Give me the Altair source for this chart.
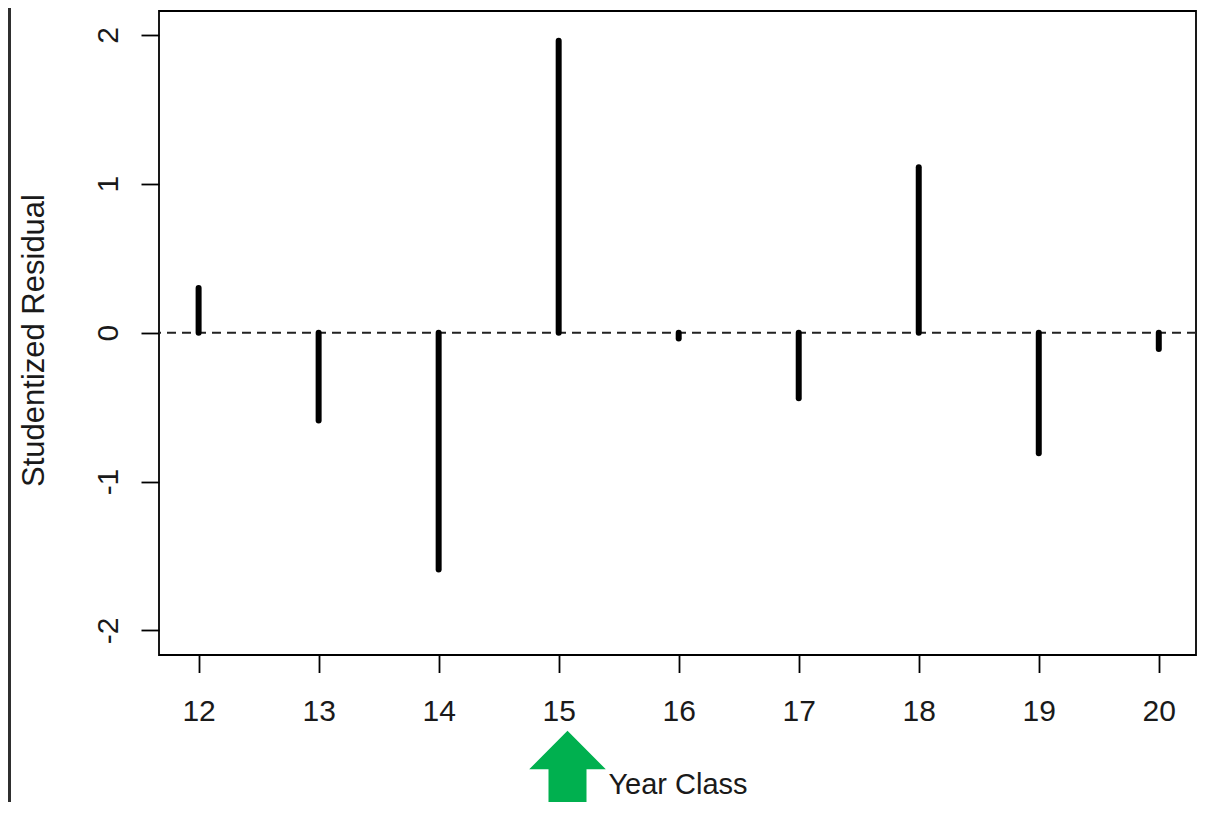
import altair as alt
import pandas as pd

year_class = [12, 13, 14, 15, 16, 17, 18, 19, 20]
residual = [0.30, -0.59, -1.59, 1.96, -0.04, -0.44, 1.11, -0.81, -0.11]
x_ticks = [12, 13, 14, 15, 16, 17, 18, 19, 20]
y_ticks = [-2, -1, 0, 1, 2]
x_title = "Year Class"
y_title = "Studentized Residual"

df = pd.DataFrame({"year": year_class, "resid": residual, "zero": [0] * len(year_class)})
one = pd.DataFrame({"zero": [0]})

W, H = 1037, 644
FONT = "Liberation Sans"

xscale = alt.Scale(domain=[11.67, 20.31], nice=False, zero=False)
yscale = alt.Scale(domain=[-2.165, 2.16], nice=False, zero=False)

y_axis = alt.Axis(
    values=y_ticks,
    title=y_title,
    titleFontSize=31,
    titleAngle=270,
    titleBaseline="alphabetic",
    titleAlign="center",
    titleX=-115.7,
    titleY=329,
    titleFont=FONT,
    titleFontWeight="normal",
    titleColor="#1a1a1a",
    labelAngle=270,
    labelAlign="center",
    labelBaseline="alphabetic",
    labelPadding=24,
    tickSize=18,
    labelExpr="'' + datum.value",
)

x_axis = alt.Axis(
    values=x_ticks,
    title=x_title,
    titleFontSize=29,
    titleBaseline="alphabetic",
    titleY=138.3,
    titleFont=FONT,
    titleFontWeight="normal",
    titleColor="#1a1a1a",
    labelBaseline="alphabetic",
    labelAlign="center",
    labelPadding=47.5,
    tickSize=17.5,
    labelExpr="'' + datum.value",
)

strip = alt.Chart(one).mark_rect(color="#2f2f2f").encode(
    x=alt.value(-151), x2=alt.value(-148), y=alt.value(-3), y2=alt.value(795)
)

zero_line = alt.Chart(one).mark_rule(
    color="#222222", strokeWidth=2, strokeDash=[9, 6]
).encode(y=alt.Y("zero:Q", scale=yscale, axis=y_axis))

bars = alt.Chart(df).mark_rule(color="black", strokeWidth=6, strokeCap="round").encode(
    x=alt.X("year:Q", scale=xscale, axis=x_axis),
    y=alt.Y("zero:Q", scale=yscale, axis=y_axis),
    y2="resid:Q",
)

arrow_path = (
    "M0,-0.806 L0.766,-0.034 L0.38,-0.034 L0.38,0.9 "
    "L-0.38,0.9 L-0.38,-0.034 L-0.766,-0.034 Z"
)
arrow = alt.Chart(one).mark_point(
    shape=arrow_path, size=10000, filled=True, color="#00b04f", opacity=1, strokeWidth=0
).encode(x=alt.value(408.5), y=alt.value(760))

chart = (
    alt.layer(strip, zero_line, bars, arrow)
    .properties(
        width=W,
        height=H,
        padding={"left": 151, "top": 3, "right": 5, "bottom": 147},
        autosize=alt.AutoSizeParams(type="none"),
        background="white",
    )
    .configure_view(stroke="black", strokeWidth=1.8)
    .configure_axis(
        grid=False,
        domain=False,
        tickColor="black",
        tickWidth=1.8,
        labelFont=FONT,
        labelFontSize=30,
        labelColor="#1a1a1a",
        labelFlush=False,
        labelOverlap=False,
    )
)

chart.save("out.html", embed_options={"renderer": "svg", "actions": False})
